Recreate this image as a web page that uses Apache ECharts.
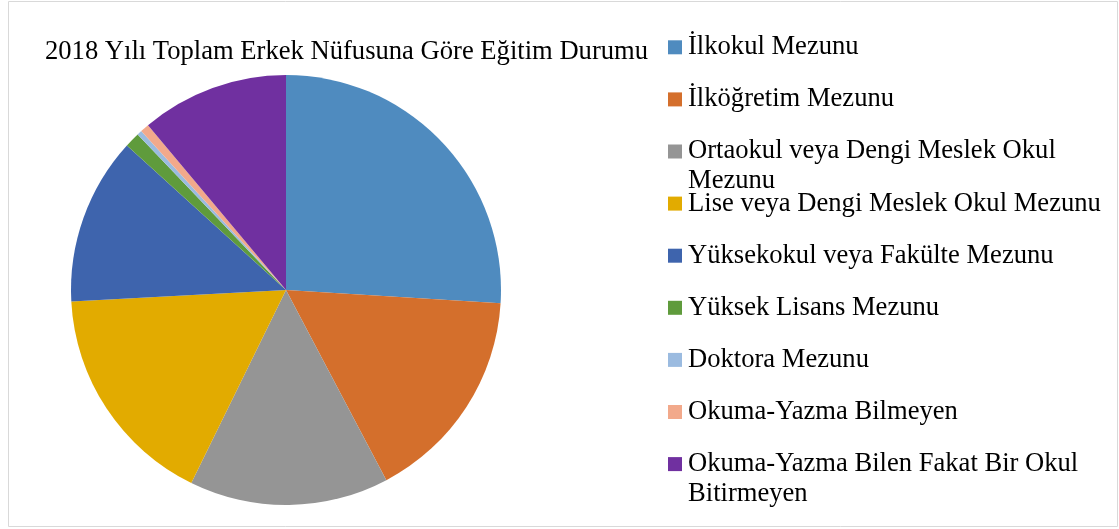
<!DOCTYPE html>
<html>
<head>
<meta charset="utf-8">
<script src="https://cdn.jsdelivr.net/npm/echarts@6/dist/echarts.min.js"></script>
<style>
html,body{margin:0;padding:0;background:#fff;}
#chart{width:1119px;height:529px;}
</style>
</head>
<body>
<div id="chart"></div>
<script>
// Data (percent shares)
const categories = [
  "İlkokul Mezunu",
  "İlköğretim Mezunu",
  "Ortaokul veya Dengi Meslek Okul Mezunu",
  "Lise veya Dengi Meslek Okul Mezunu",
  "Yüksekokul veya Fakülte Mezunu",
  "Yüksek Lisans Mezunu",
  "Doktora Mezunu",
  "Okuma-Yazma Bilmeyen",
  "Okuma-Yazma Bilen Fakat Bir Okul Bitirmeyen"
];
const values = [26.0, 16.3, 15.0, 16.9, 12.6, 1.14, 0.36, 0.67, 11.1];
const legendLabels = [
  "İlkokul Mezunu",
  "İlköğretim Mezunu",
  "Ortaokul veya Dengi Meslek Okul\nMezunu",
  "Lise veya Dengi Meslek Okul Mezunu",
  "Yüksekokul veya Fakülte Mezunu",
  "Yüksek Lisans Mezunu",
  "Doktora Mezunu",
  "Okuma-Yazma Bilmeyen",
  "Okuma-Yazma Bilen Fakat Bir Okul\nBitirmeyen"
];
const colors = ["#4F8BBF", "#D46F2C", "#959595", "#E2AB00", "#3E64AD", "#5F9B3C", "#9BBBE0", "#F2A98B", "#7030A0"];
const titleText = "2018 Yılı Toplam Erkek Nüfusuna Göre Eğitim Durumu";

const FONT = "'Liberation Serif', 'Times New Roman', serif";
const FS = 26.6;
const LH = 30;
const chart = echarts.init(document.getElementById('chart'), null, {renderer: 'canvas'});

const legends = categories.map((name, i) => {
  const wrapped = legendLabels[i].indexOf('\n') >= 0;
  const centerY = 47.3 + i * 52.1;
  // for wrapped labels an empty leading line keeps the first text line centred on the swatch
  const shown = wrapped ? '\n' + legendLabels[i] : legendLabels[i];
  return {
    orient: 'vertical',
    left: 668,
    top: centerY - (wrapped ? 1.5 * LH : 0.5 * LH),
    padding: 0,
    itemWidth: 14,
    itemHeight: 14,
    itemGap: 6,
    selectedMode: false,
    icon: 'rect',
    data: [name],
    formatter: () => shown,
    textStyle: {
      fontFamily: FONT,
      fontSize: FS,
      color: '#000',
      lineHeight: LH,
      padding: [0, 0, 0, 1]
    }
  };
});

chart.setOption({
  animation: false,
  color: colors,
  title: {
    text: titleText,
    left: 45,
    top: 39,
    padding: 0,
    textStyle: {fontFamily: FONT, fontSize: FS, fontWeight: 'normal', color: '#000'}
  },
  legend: legends,
  graphic: [{
    type: 'rect',
    shape: {x: 8.5, y: 1.5, width: 1109, height: 525},
    style: {fill: 'none', stroke: '#d9d9d9', lineWidth: 1},
    silent: true
  }],
  series: [{
    type: 'pie',
    center: [286, 290],
    radius: 215,
    startAngle: 90,
    clockwise: true,
    label: {show: false},
    labelLine: {show: false},
    emphasis: {disabled: true},
    itemStyle: {borderWidth: 0},
    data: categories.map((n, i) => ({name: n, value: values[i]}))
  }]
});
</script>
</body>
</html>
